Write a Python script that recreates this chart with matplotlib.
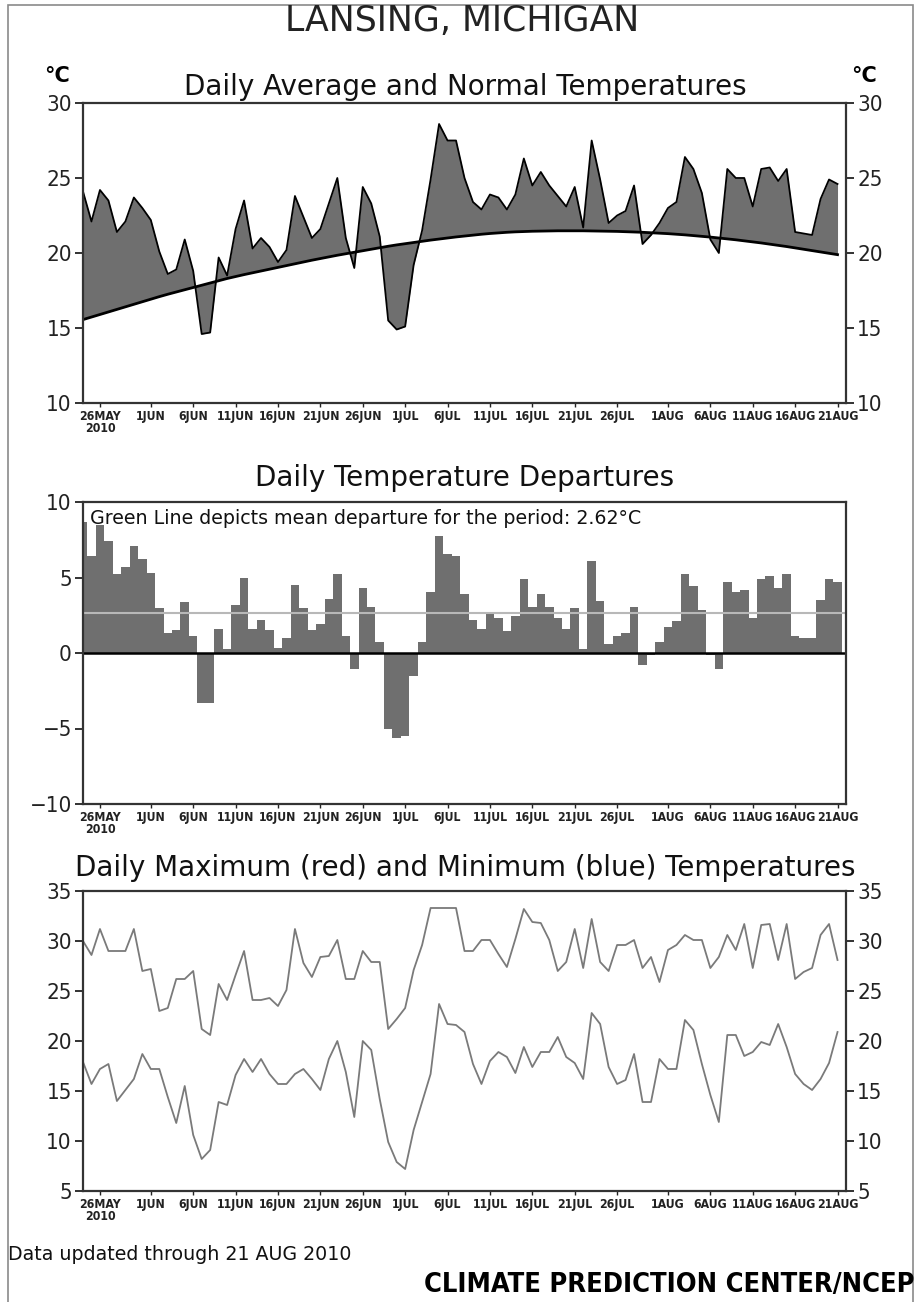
import numpy as np
import matplotlib
matplotlib.use('Agg')
import matplotlib.pyplot as plt
from matplotlib import font_manager
from matplotlib.patches import Rectangle

# day index 0 = 24 May 2010, 89 = 21 Aug 2010
days = np.arange(90)

normal = [15.56, 15.73, 15.9, 16.07, 16.24, 16.41, 16.58, 16.75, 16.92, 17.09,
          17.25, 17.4, 17.55, 17.7, 17.85, 18.0, 18.15, 18.3, 18.43, 18.56,
          18.68, 18.8, 18.92, 19.04, 19.16, 19.28, 19.4, 19.52, 19.63, 19.74,
          19.85, 19.95, 20.05, 20.15, 20.25, 20.35, 20.45, 20.54, 20.62, 20.7,
          20.78, 20.86, 20.93, 21.0, 21.07, 21.13, 21.19, 21.25, 21.3, 21.34,
          21.38, 21.41, 21.43, 21.45, 21.46, 21.47, 21.48, 21.48, 21.48, 21.48,
          21.47, 21.46, 21.45, 21.44, 21.42, 21.4, 21.38, 21.35, 21.32, 21.29,
          21.25, 21.21, 21.16, 21.11, 21.06, 21.0, 20.94, 20.88, 20.81, 20.74,
          20.67, 20.59, 20.51, 20.43, 20.34, 20.25, 20.16, 20.07, 19.98, 19.89]

avg = [24.1, 22.1, 24.2, 23.5, 21.4, 22.1, 23.7, 23.0, 22.2, 20.1,
       18.6, 18.9, 20.9, 18.8, 14.6, 14.7, 19.7, 18.5, 21.6, 23.5,
       20.3, 21.0, 20.4, 19.4, 20.2, 23.8, 22.4, 21.0, 21.6, 23.3,
       25.0, 21.0, 19.0, 24.4, 23.3, 21.1, 15.5, 14.9, 15.1, 19.2,
       21.5, 24.9, 28.6, 27.5, 27.5, 25.0, 23.4, 22.9, 23.9, 23.7,
       22.9, 23.9, 26.3, 24.5, 25.4, 24.5, 23.8, 23.1, 24.4, 21.7,
       27.5, 24.9, 22.0, 22.5, 22.8, 24.5, 20.6, 21.2, 22.0, 23.0,
       23.4, 26.4, 25.6, 24.0, 20.9, 20.0, 25.6, 25.0, 25.0, 23.1,
       25.6, 25.7, 24.8, 25.6, 21.4, 21.3, 21.2, 23.6, 24.9, 24.6]

departure = [8.7, 6.4, 8.5, 7.4, 5.2, 5.7, 7.1, 6.2, 5.3, 3.0,
             1.3, 1.5, 3.4, 1.1, -3.3, -3.3, 1.6, 0.25, 3.2, 5.0,
             1.6, 2.2, 1.5, 0.33, 1.0, 4.5, 3.0, 1.5, 1.95, 3.55,
             5.2, 1.1, -1.05, 4.3, 3.05, 0.73, -5.0, -5.6, -5.5, -1.55,
             0.73, 4.07, 7.75, 6.55, 6.4, 3.9, 2.2, 1.6, 2.6, 2.33,
             1.47, 2.47, 4.9, 3.07, 3.93, 3.07, 2.35, 1.6, 2.95, 0.25,
             6.07, 3.45, 0.58, 1.1, 1.35, 3.07, -0.82, -0.15, 0.73, 1.7,
             2.1, 5.2, 4.45, 2.85, -0.15, -1.05, 4.7, 4.07, 4.18, 2.33,
             4.9, 5.07, 4.3, 5.2, 1.1, 1.0, 1.0, 3.5, 4.9, 4.7]
mean_departure = 2.62

tmax = [30.0, 28.6, 31.2, 29.0, 29.0, 29.0, 31.2, 27.0, 27.2, 23.0,
        23.3, 26.2, 26.2, 27.0, 21.2, 20.6, 25.7, 24.1, 26.6, 29.0,
        24.1, 24.1, 24.3, 23.5, 25.1, 31.2, 27.8, 26.4, 28.4, 28.5,
        30.1, 26.2, 26.2, 29.0, 27.9, 27.9, 21.2, 22.2, 23.3, 27.1,
        29.6, 33.3, 33.3, 33.3, 33.3, 29.0, 29.0, 30.1, 30.1, 28.7,
        27.4, 30.2, 33.2, 31.9, 31.8, 30.1, 27.0, 27.9, 31.2, 27.3,
        32.2, 27.9, 27.0, 29.6, 29.6, 30.1, 27.3, 28.4, 25.9, 29.1,
        29.6, 30.6, 30.1, 30.1, 27.3, 28.4, 30.6, 29.1, 31.7, 27.3,
        31.6, 31.7, 28.1, 31.7, 26.2, 26.9, 27.3, 30.6, 31.7, 28.1]

tmin = [17.9, 15.7, 17.2, 17.7, 14.0, 15.1, 16.2, 18.7, 17.2, 17.2,
        14.4, 11.8, 15.5, 10.6, 8.2, 9.1, 13.9, 13.6, 16.6, 18.2,
        16.9, 18.2, 16.7, 15.7, 15.7, 16.7, 17.2, 16.2, 15.1, 18.2,
        20.0, 16.9, 12.4, 20.0, 19.1, 14.2, 9.9, 7.9, 7.2, 11.1,
        13.9, 16.7, 23.7, 21.7, 21.6, 20.9, 17.7, 15.7, 18.0, 18.9,
        18.4, 16.8, 19.4, 17.4, 18.9, 18.9, 20.4, 18.4, 17.8, 16.2,
        22.8, 21.7, 17.4, 15.7, 16.1, 18.7, 13.9, 13.9, 18.2, 17.2,
        17.2, 22.1, 21.1, 17.7, 14.6, 11.9, 20.6, 20.6, 18.5, 18.9,
        19.9, 19.6, 21.7, 19.4, 16.7, 15.7, 15.1, 16.2, 17.8, 20.9]

tick_days = [2, 8, 13, 18, 23, 28, 33, 38, 43, 48, 53, 58, 63, 69, 74, 79, 84, 89]
tick_labels = ['26MAY\n2010', '1JUN', '6JUN', '11JUN', '16JUN', '21JUN', '26JUN',
               '1JUL', '6JUL', '11JUL', '16JUL', '21JUL', '26JUL',
               '1AUG', '6AUG', '11AUG', '16AUG', '21AUG']

# look for a condensed sans face, the reference lettering is narrow
narrow_kw = {'fontfamily': 'DejaVu Sans'}
for f in font_manager.fontManager.ttflist:
    if 'Narrow' in f.name or 'Condensed' in f.name:
        narrow_kw = {'fontfamily': f.name}
        break
    if f.stretch in ('condensed', 'semi-condensed') and 'Sans' in f.name and 'Mono' not in f.name:
        narrow_kw = {'fontfamily': f.name, 'fontstretch': f.stretch}
        break
plt.rcParams['font.family'] = ['DejaVu Sans']

W, H = 920, 1302
fig = plt.figure(figsize=(W / 100, H / 100), dpi=100)
fig.patch.set_facecolor('white')

fill_grey = '#6f6f6f'
line_grey = '#7a7a7a'


def box(top, bottom, left=83, right=846):
    return [left / W, 1 - bottom / H, (right - left) / W, (bottom - top) / H]


def txt(x, y, s, **kw):
    fig.text(x / W, 1 - y / H, s, **kw)


def style(ax, ylim, yticks, right_labels=True):
    ax.set_xlim(0, 90)
    ax.set_ylim(*ylim)
    ax.set_yticks(yticks)
    ax.set_xticks(tick_days)
    ax.set_xticklabels(tick_labels, fontweight='bold', fontsize=8.8,
                       linespacing=0.95, **narrow_kw)
    ax.tick_params(axis='y', labelsize=16, length=6, width=1.3, pad=2,
                   right=right_labels, labelright=right_labels, colors='#222222')
    for lab in ax.get_yticklabels(which='both'):
        lab.set(**narrow_kw)
    ax.tick_params(axis='x', length=3, width=1, pad=2, colors='#222222')
    for sp in ax.spines.values():
        sp.set_linewidth(1.6)
        sp.set_color('#333333')


# panel 1: daily average and normal
ax1 = fig.add_axes(box(103, 403))
ax1.fill_between(days, avg, normal, color=fill_grey, lw=0)
ax1.plot(days, avg, color='black', lw=1.3)
ax1.plot(days, normal, color='black', lw=2.0)
style(ax1, (10, 30), [10, 15, 20, 25, 30])

# panel 2: departures
ax2 = fig.add_axes(box(502, 804))
ax2.bar(days, departure, width=1.0, color=fill_grey, lw=0)
ax2.axhline(0, color='black', lw=1.8)
ax2.axhline(mean_departure, color='#b8b8b8', lw=1.5)
style(ax2, (-10, 10), [-10, -5, 0, 5, 10], right_labels=False)
ax2.text(0.009, 0.945, 'Green Line depicts mean departure for the period: 2.62°C',
         transform=ax2.transAxes, fontsize=13.7, va='center', ha='left', color='#111111')

# panel 3: max and min
ax3 = fig.add_axes(box(891, 1191))
ax3.plot(days, tmax, color=line_grey, lw=1.3)
ax3.plot(days, tmin, color=line_grey, lw=1.3)
style(ax3, (5, 35), [5, 10, 15, 20, 25, 30, 35])

# titles and labels
txt(462, 31, 'LANSING, MICHIGAN', fontsize=25, ha='center', va='baseline', color='#222222')
txt(465, 87, 'Daily Average and Normal Temperatures', fontsize=20, ha='center', va='center', color='#111111')
txt(465, 478, 'Daily Temperature Departures', fontsize=20, ha='center', va='center', color='#111111')
txt(465, 868, 'Daily Maximum (red) and Minimum (blue) Temperatures', fontsize=20, ha='center', va='center', color='#111111')
txt(57, 76, '°C', fontsize=15, fontweight='bold', ha='center', va='center')
txt(864, 76, '°C', fontsize=15, fontweight='bold', ha='center', va='center')
txt(8, 1255, 'Data updated through 21 AUG 2010', fontsize=13.7, ha='left', va='center', color='#111111')
txt(915, 1285, 'CLIMATE PREDICTION CENTER/NCEP', fontsize=19.5, fontweight='bold',
    ha='right', va='center', **narrow_kw)

# outer frame
fig.add_artist(Rectangle((8 / W, -0.01), (913 - 8) / W, 1.01 - 5 / H, fill=False,
                         edgecolor='#8a8a8a', lw=1.2, transform=fig.transFigure))

fig.savefig('out.png', dpi=100, facecolor='white')
